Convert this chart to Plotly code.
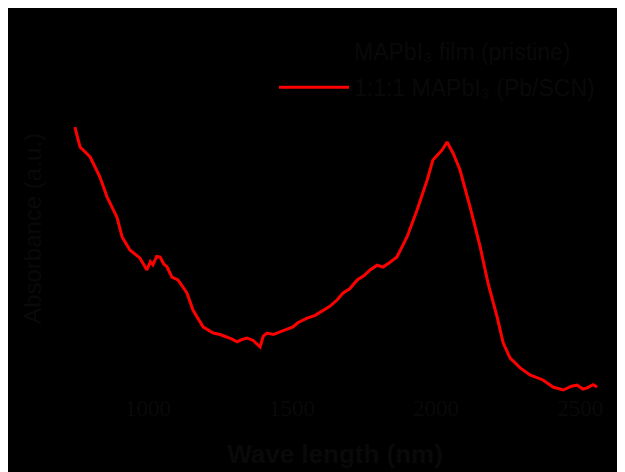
import plotly.graph_objects as go

# Wavelength (nm) and absorbance (a.u.)
wavelength = [746, 764, 799, 833, 858, 892, 910, 937, 972, 996, 1008, 1017, 1030, 1042, 1054, 1066,
              1083, 1104, 1135, 1156, 1191, 1226, 1250, 1274, 1290, 1309, 1325, 1344, 1365, 1389,
              1400, 1413, 1435, 1458, 1480, 1503, 1520, 1552, 1580, 1608, 1630, 1656, 1677, 1700,
              1726, 1750, 1771, 1795, 1816, 1840, 1864, 1899, 1934, 1969, 1989, 2021, 2038, 2059,
              2083, 2118, 2153, 2180, 2212, 2233, 2257, 2292, 2326, 2371, 2406, 2441, 2470, 2489,
              2510, 2524, 2545, 2559]
absorbance = [0.908, 0.841, 0.807, 0.739, 0.671, 0.603, 0.536, 0.492, 0.464, 0.424, 0.452, 0.441,
              0.470, 0.468, 0.445, 0.434, 0.400, 0.390, 0.346, 0.288, 0.231, 0.210, 0.205, 0.197,
              0.190, 0.180, 0.188, 0.193, 0.185, 0.163, 0.200, 0.210, 0.205, 0.214, 0.222, 0.231,
              0.245, 0.261, 0.270, 0.288, 0.300, 0.322, 0.346, 0.360, 0.390, 0.405, 0.424, 0.440,
              0.434, 0.450, 0.468, 0.536, 0.627, 0.729, 0.797, 0.831, 0.858, 0.820, 0.763, 0.637,
              0.502, 0.380, 0.264, 0.176, 0.125, 0.092, 0.068, 0.051, 0.027, 0.017, 0.030, 0.034,
              0.020, 0.024, 0.035, 0.027]

series_names = ["MAPbI₃ film (pristine)", "1:1:1 MAPbI₃ (Pb/SCN)"]
x_ticks = [1000, 1500, 2000, 2500]

text_color = "#090909"

fig = go.Figure()
fig.add_trace(go.Scatter(x=wavelength, y=absorbance, mode="lines", name=series_names[0],
                         legendgroup="a", line=dict(color="black", width=3)))
fig.add_trace(go.Scatter(x=wavelength, y=absorbance, mode="lines", name=series_names[1],
                         legendgroup="b", line=dict(color="#ff0000", width=3)))

L, R, T, B = 47, 18, 57, 88
W, H = 625 - L - R, 472 - T - B

fig.update_layout(
    width=625, height=472,
    margin=dict(l=L, r=R, t=T, b=B, autoexpand=False),
    paper_bgcolor="black", plot_bgcolor="black",
    showlegend=True,
    legend=dict(x=(266 - L) / W, y=(T + H - 22) / H, xanchor="left", yanchor="top",
                bgcolor="rgba(0,0,0,0)", itemwidth=70, traceorder="grouped", tracegroupgap=3,
                font=dict(family="Liberation Sans", size=23, color=text_color)),
    xaxis=dict(range=[677, 2621], tickvals=x_ticks, ticktext=[str(v) for v in x_ticks],
               automargin=False,
               showgrid=False, zeroline=False, showline=False, ticks="",
               tickfont=dict(family="Liberation Serif", size=23, color=text_color),
               title=dict(text="<b>Wave length (nm)</b>", standoff=24,
                          font=dict(family="Liberation Sans", size=26, color=text_color))),
    yaxis=dict(range=[0.0102, 1.119], showticklabels=False, showgrid=False, zeroline=False,
               showline=False, ticks="", automargin=False,
               title=dict(text="Absorbance (a.u.)", standoff=5,
                          font=dict(family="Liberation Sans", size=24, color=text_color))),
)

fig.write_html("out.html")
